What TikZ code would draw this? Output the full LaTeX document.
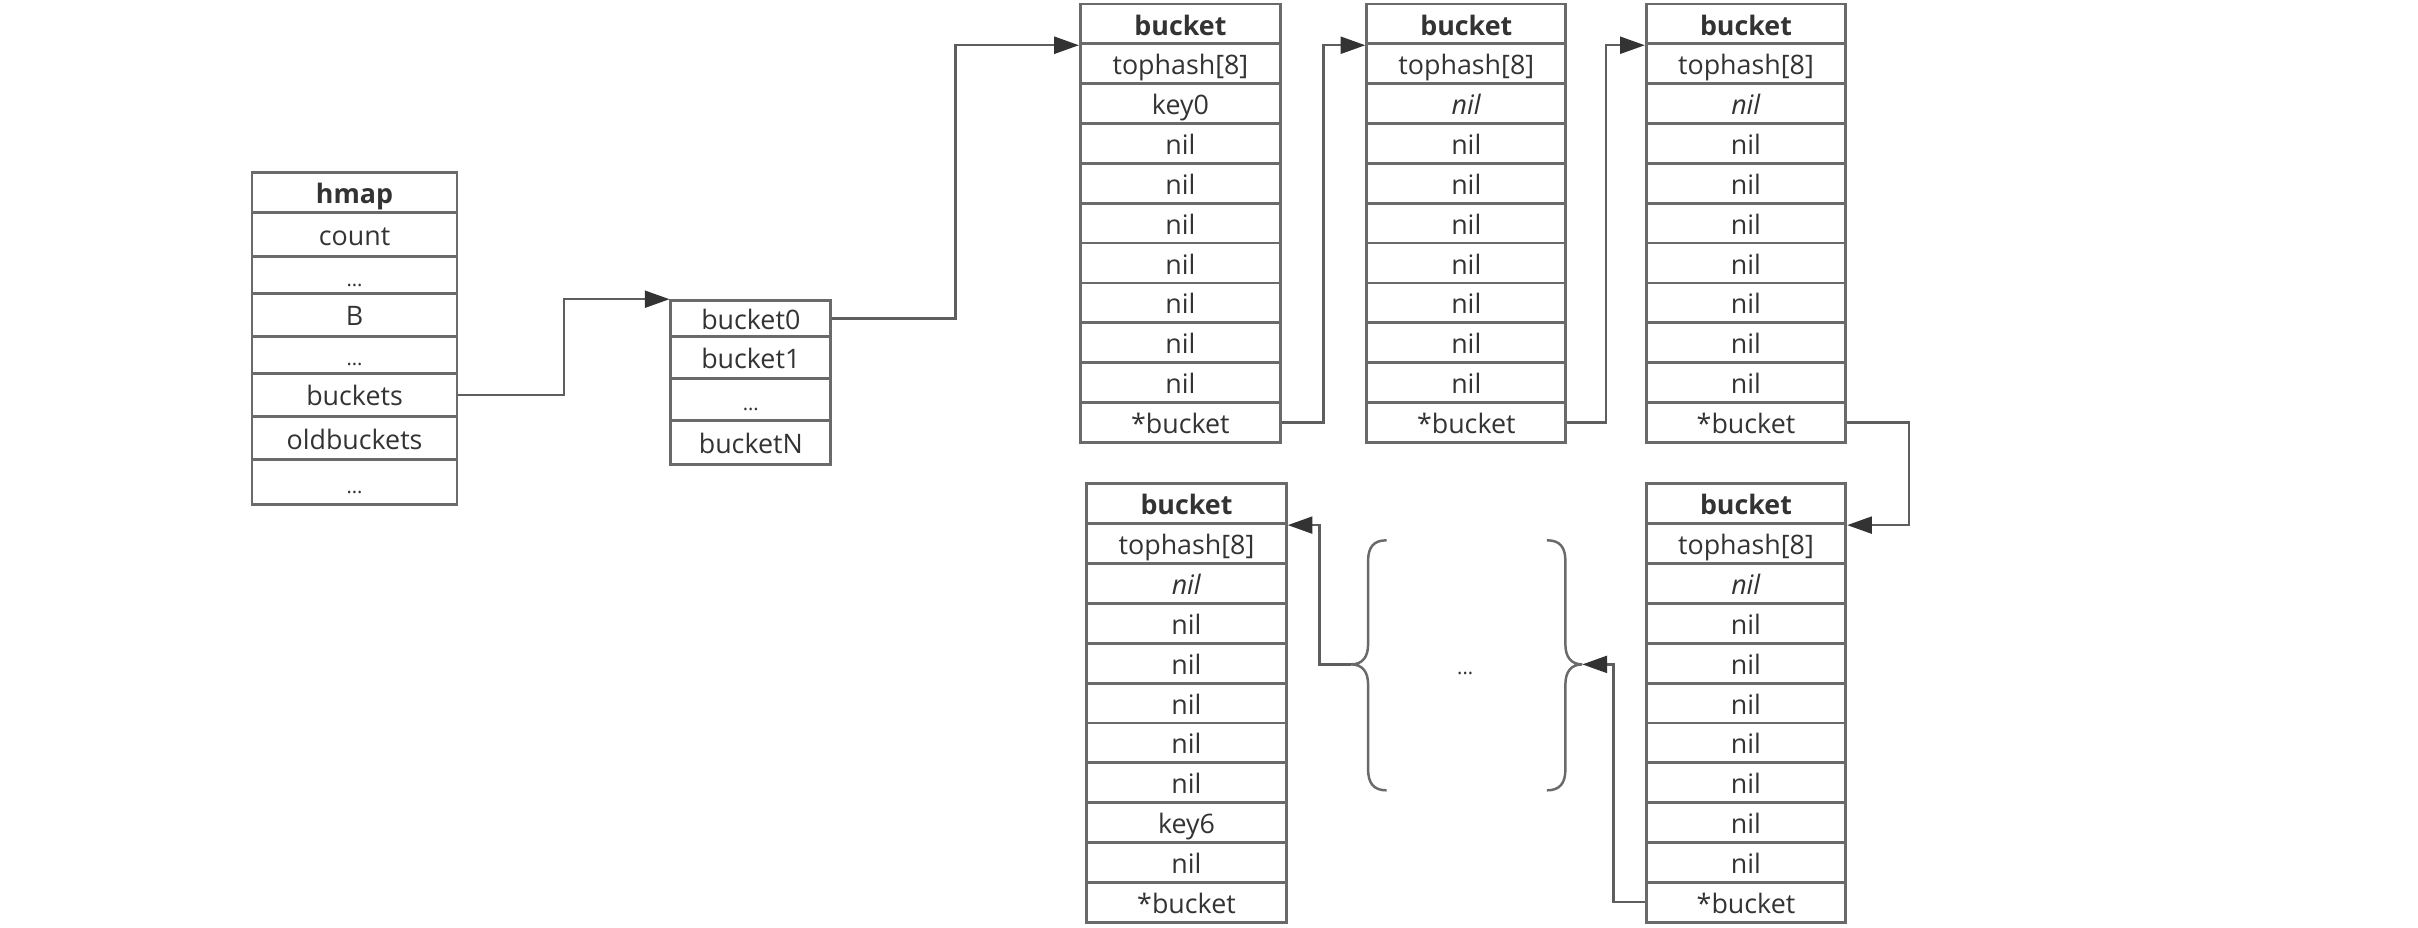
\documentclass[tikz,border=0pt]{standalone}
\usepackage{fontspec}
\setmainfont{Open Sans}
\usetikzlibrary{arrows.meta,calc}
\definecolor{bordc}{HTML}{6A6A6A}
\definecolor{txtc}{HTML}{333333}
\definecolor{connc}{HTML}{5E5E5E}
\definecolor{arrc}{HTML}{333333}
\newcommand\mydots{{\fontsize{13}{13}\selectfont...}}
\def\rowh{25.85}
\tikzset{
  cell/.style={draw=bordc, line width=1.8pt, inner sep=0pt, text height=14.4pt, text depth=0pt,
    font=\fontsize{17.4}{20}\selectfont, text=txtc, anchor=center},
  arr/.style={draw=connc, line width=1.5pt, -{Triangle[length=16pt,width=11pt,color=arrc,fill=arrc]}},
  brace/.style={draw=bordc, line width=1.6pt},
}
\newcommand\ucol[5]{%
  \foreach \t [count=\i] in {#5}{%
    \node[cell, minimum width={(#3-#2)*1pt}, minimum height=\rowh pt] (#1-\i) at ({(#2+#3)/2},{#4+(\i-0.5)*\rowh}) {\t};
  }}
\newcommand\vcol[4]{%
  \foreach \ya/\yb/\t [count=\i] in {#4}{%
    \node[cell, minimum width={(#3-#2)*1pt}, minimum height={(\yb-\ya)*1pt}] (#1-\i) at ({(#2+#3)/2},{(\ya+\yb)/2}) {\t};
  }}
\begin{document}
\begin{tikzpicture}[x=1pt,y=-1pt]
\fill[white] (0,0) rectangle (1568.6,602);
\useasboundingbox (0,0) rectangle (1568.6,602);
% hmap
\vcol{hm}{163.5}{296.5}{112/137.9/{\textbf{hmap}},137.9/166.5/count,166.5/190.2/\mydots,190.2/218.3/B,218.3/242.1/\mydots,242.1/270.2/buckets,270.2/298.3/oldbuckets,298.3/327.5/\mydots}
% bucket array
\vcol{ar}{435.2}{538.9}{195/218.3/bucket0,218.3/245.3/bucket1,245.3/272.8/\mydots,272.8/301.5/bucketN}
% top row buckets
\ucol{c1}{700.8}{830.7}{2.6}{{\textbf{bucket}},tophash[8],key0,nil,nil,nil,nil,nil,nil,nil,*bucket}
\ucol{c2}{886.6}{1015.8}{2.6}{{\textbf{bucket}},tophash[8],{\textit{nil}},nil,nil,nil,nil,nil,nil,nil,*bucket}
\ucol{c3}{1067.9}{1197.4}{2.6}{{\textbf{bucket}},tophash[8],{\textit{nil}},nil,nil,nil,nil,nil,nil,nil,*bucket}
% bottom row buckets
\ucol{c4}{704.9}{834.5}{313.9}{{\textbf{bucket}},tophash[8],{\textit{nil}},nil,nil,nil,nil,nil,key6,nil,*bucket}
\ucol{c5}{1067.9}{1197.4}{313.9}{{\textbf{bucket}},tophash[8],{\textit{nil}},nil,nil,nil,nil,nil,nil,nil,*bucket}
% braces and dots
\coordinate (lb) at (876.5,431);
\coordinate (rb) at (1026.5,431);
\draw[brace] (899.5,350.5) .. controls (891,350.5) and (887.5,355) .. (887.5,364) -- (887.5,418)
  .. controls (887.5,426) and (884,431) .. (lb)
  .. controls (884,431) and (887.5,436) .. (887.5,444) -- (887.5,499)
  .. controls (887.5,508) and (891,512.7) .. (899.5,512.7);
\draw[brace] (1003.5,350.5) .. controls (1012,350.5) and (1015.5,355) .. (1015.5,364) -- (1015.5,418)
  .. controls (1015.5,426) and (1019,431) .. (rb)
  .. controls (1019,431) and (1015.5,436) .. (1015.5,444) -- (1015.5,499)
  .. controls (1015.5,508) and (1012,512.7) .. (1003.5,512.7);
\node[inner sep=0pt, anchor=base, text=txtc] (mid) at (950.5,437.5) {\mydots};
% connectors
\draw[arr] (hm-6.east) -| ($(hm-6.east)!.5!(ar-1.north west)$) |- (ar-1.north west);
\draw[arr] (ar-1.east) -| ($(ar-1.east)!.5!(c1-1.south west)$) |- (c1-1.south west);
\draw[arr] (c1-11.east) -| ($(c1-11.east)!.5!(c2-1.south west)$) |- (c2-1.south west);
\draw[arr] (c2-11.east) -| ($(c2-11.east)!.5!(c3-1.south west)$) |- (c3-1.south west);
\draw[arr] (c3-11.east) -- ++(40,0) |- (c5-1.south east);
\draw[arr] (c5-11.west) -| ($(c5-11.west)!.5!(rb)$) |- (rb);
\draw[arr] (lb) -| ($(lb)!.5!(c4-1.south east)$) |- (c4-1.south east);
\end{tikzpicture}
\end{document}
